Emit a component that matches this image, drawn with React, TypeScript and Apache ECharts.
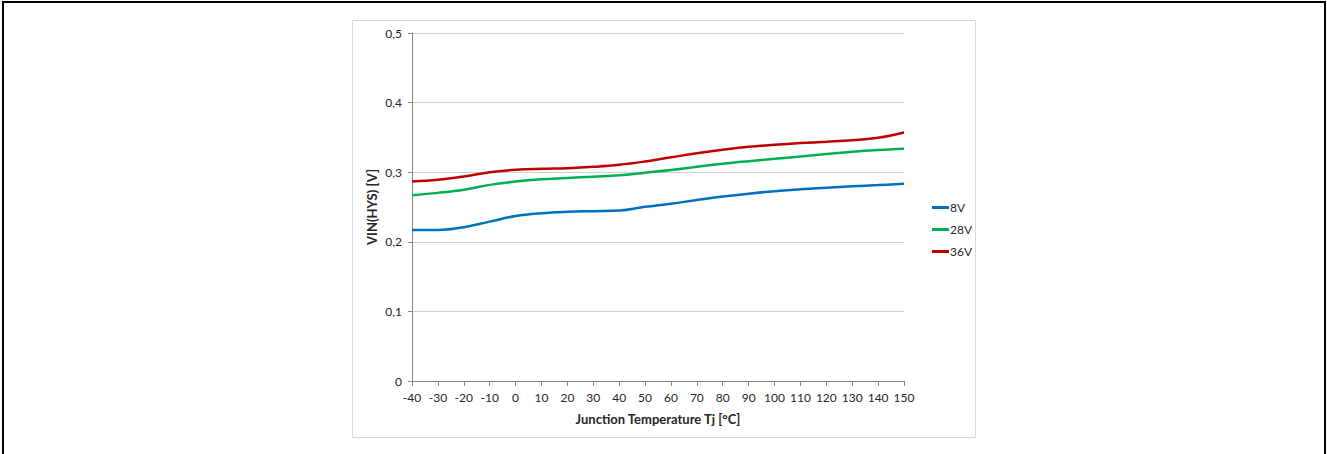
import React, { useEffect, useRef } from "react";
import * as echarts from "echarts";

const temps = [-40, -30, -20, -10, 0, 10, 20, 30, 40, 50, 60, 70, 80, 90, 100, 110, 120, 130, 140, 150];
const v8 = [0.217, 0.217, 0.221, 0.229, 0.237, 0.241, 0.243, 0.244, 0.2448, 0.2502, 0.2548, 0.26, 0.265, 0.2692, 0.2727, 0.2754, 0.2778, 0.2798, 0.2815, 0.2833];
const v28 = [0.267, 0.2703, 0.2747, 0.2818, 0.2866, 0.2898, 0.2916, 0.2936, 0.2955, 0.2993, 0.3032, 0.3078, 0.3121, 0.3158, 0.3192, 0.3226, 0.326, 0.3293, 0.3318, 0.3336];
const v36 = [0.2866, 0.289, 0.2938, 0.3, 0.3034, 0.3049, 0.3058, 0.3077, 0.3106, 0.3154, 0.3214, 0.3272, 0.3322, 0.3365, 0.3394, 0.3418, 0.3438, 0.346, 0.3494, 0.357];
const seriesNames = ["8V", "28V", "36V"];
const seriesColors = ["#0070C0", "#00B050", "#C00000"];

const FONT = "Lato, 'Liberation Sans', sans-serif";

export default function App() {
  const ref = useRef<HTMLDivElement>(null);
  useEffect(() => {
    if (!ref.current) return;
    const chart = echarts.init(ref.current, undefined, { renderer: "svg" });
    const all = [v8, v28, v36];
    chart.setOption({
      animation: false,
      backgroundColor: "#ffffff",
      textStyle: { fontFamily: FONT },
      grid: { left: 412, right: 423, top: 33, bottom: 73, containLabel: false },
      graphic: [
        {
          type: "polyline",
          shape: { points: [[3, 454], [3, 2], [1325, 2], [1325, 454]] },
          style: { stroke: "#000000", lineWidth: 2, fill: "none" },
          silent: true,
        },
        {
          type: "rect",
          shape: { x: 352.5, y: 20.5, width: 623, height: 417 },
          style: { stroke: "#d9d9d9", lineWidth: 1, fill: "none" },
          silent: true,
        },
      ],
      legend: {
        orient: "vertical",
        left: 927,
        top: 195,
        itemWidth: 17,
        itemHeight: 3,
        itemGap: 7,
        icon: "rect",
        data: seriesNames,
        textStyle: { fontFamily: FONT, fontSize: 12, color: "#262626", lineHeight: 15, padding: [0, 0, 0, -4] },
      },
      xAxis: {
        type: "value",
        min: -40,
        max: 150,
        interval: 10,
        name: "Junction Temperature Tj [°C]",
        nameLocation: "middle",
        nameGap: 31,
        nameTextStyle: { fontFamily: FONT, fontSize: 13, fontWeight: "bold", color: "#262626" },
        axisLine: { show: true, onZero: false, lineStyle: { color: "#868686", width: 1 } },
        axisTick: { show: true, length: 5, lineStyle: { color: "#868686" } },
        axisLabel: { fontFamily: FONT, fontSize: 12, color: "#262626", margin: 10 },
        splitLine: { show: false },
      },
      yAxis: {
        type: "value",
        min: 0,
        max: 0.5,
        interval: 0.1,
        name: "VIN(HYS) [V]",
        nameLocation: "middle",
        nameGap: 34,
        nameTextStyle: { fontFamily: FONT, fontSize: 13, fontWeight: "bold", color: "#262626" },
        axisLine: { show: true, onZero: false, lineStyle: { color: "#868686", width: 1 } },
        axisTick: { show: true, length: 4, lineStyle: { color: "#868686" } },
        axisLabel: {
          fontFamily: FONT,
          fontSize: 12,
          color: "#262626",
          margin: 10,
          formatter: (v: number) => (Math.round(v * 10) / 10).toString().replace(".", ","),
        },
        splitLine: { show: true, lineStyle: { color: "#d0d0d0", width: 1 } },
      },
      series: seriesNames.map((name, i) => ({
        name,
        type: "line",
        smooth: 0.4,
        showSymbol: false,
        symbol: "none",
        data: temps.map((t, j) => [t, all[i][j]]),
        lineStyle: { color: seriesColors[i], width: 2.5 },
        itemStyle: { color: seriesColors[i] },
      })),
    });
    return () => chart.dispose();
  }, []);
  return (
    <div
      ref={ref}
      style={{ position: "fixed", left: 0, top: 0, width: 1327, height: 454, background: "#fff" }}
    />
  );
}
